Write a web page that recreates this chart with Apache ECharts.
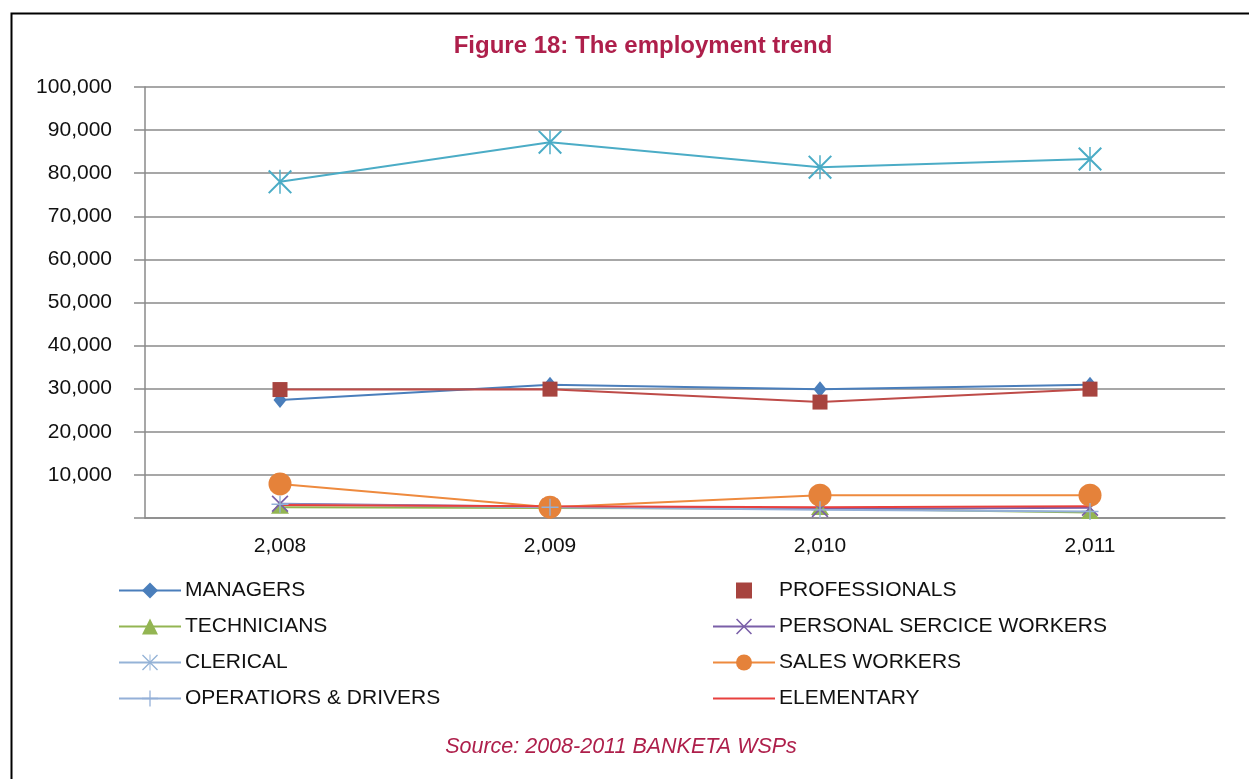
<!DOCTYPE html>
<html>
<head>
<meta charset="utf-8">
<script src="https://cdn.jsdelivr.net/npm/echarts@6/dist/echarts.min.js"></script>
<style>
html,body{margin:0;padding:0;background:#fff;}
#c{width:1249px;height:779px;}
</style>
</head>
<body>
<div id="c"></div>
<script>
const years = ['2,008', '2,009', '2,010', '2,011'];
const managers = [27400, 30900, 29900, 30900];
const professionals = [29800, 29900, 26900, 29900];
const technicians = [2500, 2300, 2200, 1300];
const personalService = [3300, 2600, 2100, 2400];
const clerical = [78000, 87200, 81400, 83300];
const salesWorkers = [7900, 2500, 5300, 5300];
const operators = [3200, 2500, 1900, 1500];
const elementary = [3000, 2700, 2500, 2700];
const yTicks = [0, 10000, 20000, 30000, 40000, 50000, 60000, 70000, 80000, 90000, 100000];

const FONT = "'Liberation Sans', Arial, sans-serif";
const X_PATH = 'path://M0,1.4L1.4,0L10,8.6L18.6,0L20,1.4L11.4,10L20,18.6L18.6,20L10,11.4L1.4,20L0,18.6L8.6,10Z';
const PLUS_PATH = 'path://M9.2,0H10.8V9.2H20V10.8H10.8V20H9.2V10.8H0V9.2H9.2Z';
const STAR_PATH = 'path://M0,1.2L1.2,0L10,8.8L18.8,0L20,1.2L11.2,10L20,18.8L18.8,20L10,11.2L1.2,20L0,18.8L8.8,10Z M9.4,0H10.6V20H9.4Z';

function fmt(v) { return v === 0 ? '' : v.toLocaleString('en-US'); }

const chart = echarts.init(document.getElementById('c'), null, {renderer: 'canvas'});

function mk(name, data, color, symbol, size, lineColor) {
  return {
    name: name, type: 'line', data: data,
    symbol: symbol, symbolSize: size,
    itemStyle: {color: color},
    lineStyle: {color: lineColor || color, width: 2},
    emphasis: {disabled: true},
    animation: false,
    z: 2
  };
}

const series = [
  mk('MANAGERS', managers, '#4A7EBB', 'diamond', [13, 16]),
  mk('PROFESSIONALS', professionals, '#A7443F', 'rect', 15, '#BE4B48'),
  mk('TECHNICIANS', technicians, '#93B552', 'triangle', [18, 13]),
  mk('PERSONAL SERCICE WORKERS', personalService, '#7A5FA8', X_PATH, 17),
  mk('CLERICAL', clerical, '#4BACC6', STAR_PATH, 24),
  mk('SALES WORKERS', salesWorkers, '#E5823A', 'circle', 23, '#EE8A3E'),
  mk('OPERATIORS & DRIVERS', operators, '#94B0D8', PLUS_PATH, 17),
  mk('ELEMENTARY', elementary, '#E8403E', 'none', 0)
];

const legendCommon = {
  orient: 'vertical',
  itemWidth: 62,
  itemHeight: 20,
  itemGap: 15,
  textStyle: {fontFamily: FONT, fontSize: 21, color: '#111', padding: [0, 0, 0, -1], height: 20, lineHeight: 20},
  selectedMode: false,
  padding: 0
};

const option = {
  backgroundColor: '#fff',
  animation: false,
  title: [
    {text: 'Figure 18: The employment trend', left: 638, top: 29, textAlign: 'center',
     textStyle: {fontFamily: FONT, fontSize: 24, fontWeight: 'bold', color: '#AE1F4B'}},
    {text: 'Source: 2008-2011 BANKETA WSPs', left: 616, top: 731, textAlign: 'center',
     textStyle: {fontFamily: FONT, fontSize: 21.5, fontStyle: 'italic', fontWeight: 'normal', color: '#AE1F4B'}}
  ],
  legend: [
    Object.assign({}, legendCommon, {left: 118, top: 580, data: [
      {name: 'MANAGERS'}, {name: 'TECHNICIANS'},
      {name: 'CLERICAL', itemStyle: {color: '#95B3D7'}, lineStyle: {color: '#95B3D7'}},
      {name: 'OPERATIORS & DRIVERS'}
    ]}),
    Object.assign({}, legendCommon, {left: 712, top: 580, data: [
      {name: 'PROFESSIONALS', lineStyle: {opacity: 0}},
      {name: 'PERSONAL SERCICE WORKERS'},
      {name: 'SALES WORKERS'},
      {name: 'ELEMENTARY', itemStyle: {opacity: 0}}
    ]})
  ],
  grid: {left: 145, right: 24, top: 87, bottom: 261, containLabel: false},
  xAxis: {
    type: 'category', data: years, boundaryGap: true,
    axisLine: {lineStyle: {color: '#8a8a8a', width: 1.5}},
    axisTick: {show: false},
    axisLabel: {fontFamily: FONT, fontSize: 21, color: '#111', margin: 18},
    splitLine: {show: false}
  },
  yAxis: {
    type: 'value', min: yTicks[0], max: yTicks[yTicks.length - 1], interval: 10000,
    axisLine: {show: true, lineStyle: {color: '#8a8a8a', width: 1.5}},
    axisTick: {show: true, length: 11, lineStyle: {color: '#8a8a8a', width: 1.5}},
    axisLabel: {fontFamily: FONT, fontSize: 21, color: '#111', margin: 33, formatter: fmt},
    splitLine: {show: true, lineStyle: {color: '#8a8a8a', width: 1.5}}
  },
  graphic: [
    {type: 'rect', left: 9, top: 11, shape: {width: 1300, height: 800},
     style: {fill: 'none', stroke: '#000', lineWidth: 2}, z: 100}
  ],
  series: series
};
chart.setOption(option);
</script>
</body>
</html>
